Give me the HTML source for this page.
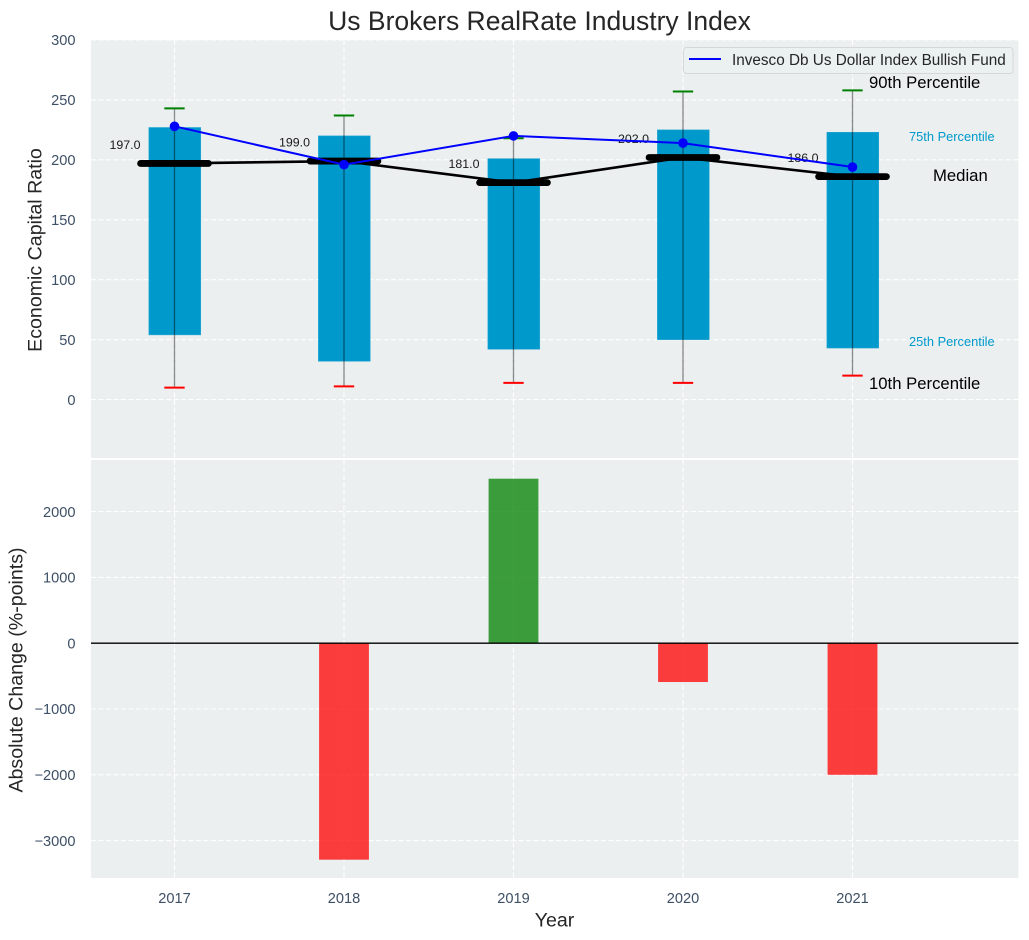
<!DOCTYPE html>
<html>
<head>
<meta charset="utf-8">
<title>Us Brokers RealRate Industry Index</title>
<style>
html,body{margin:0;padding:0;background:#fff;width:1029px;height:940px;overflow:hidden}
svg{display:block;font-family:"Liberation Sans",Arial,sans-serif}
</style>
</head>
<body>
<svg id="chart" width="1029" height="940" viewBox="0 0 1029 940" xmlns="http://www.w3.org/2000/svg">
  <rect x="91" y="40" width="927.5" height="418" fill="#ebeff0"/>
  <rect x="91" y="460" width="927.5" height="418" fill="#ebeff0"/>
  <g id="grid"></g>
  <g id="top-marks"></g>
  <g id="bottom-marks"></g>
  <g id="ticks"></g>

  <text x="539.5" y="30" font-size="26.5" fill="#262626" text-anchor="middle">Us Brokers RealRate Industry Index</text>
  <text transform="translate(41.5,250) rotate(-90)" font-size="19.6" fill="#262626" text-anchor="middle">Economic Capital Ratio</text>
  <text transform="translate(22.5,670) rotate(-90)" font-size="19.6" fill="#262626" text-anchor="middle">Absolute Change (%-points)</text>
  <text x="554.5" y="926.5" font-size="19.6" fill="#262626" text-anchor="middle">Year</text>

  <text x="869" y="88" font-size="16.7" fill="#000">90th Percentile</text>
  <text x="909" y="141" font-size="12.85" fill="#0099cc">75th Percentile</text>
  <text x="933" y="181" font-size="16.7" fill="#000">Median</text>
  <text x="909" y="346" font-size="12.85" fill="#0099cc">25th Percentile</text>
  <text x="869" y="389" font-size="16.7" fill="#000">10th Percentile</text>

  <g>
    <rect x="683.5" y="47.5" width="329.5" height="26" rx="3" fill="#ebeff0" fill-opacity="0.9" stroke="#d5d7d9" stroke-width="1"/>
    <line x1="689" y1="59" x2="721" y2="59" stroke="#0000ff" stroke-width="2"/>
    <text x="732" y="65" font-size="15.3" fill="#262626">Invesco Db Us Dollar Index Bullish Fund</text>
  </g>
</svg>
<script>
var years = [2017, 2018, 2019, 2020, 2021];
var p90 = [243, 237, 218, 257, 258];
var p75 = [227, 220, 201, 225, 223];
var medians = [197, 199, 181, 202, 186];
var p25 = [54, 32, 42, 50, 43];
var p10 = [10, 11, 14, 14, 20];
var fund = [228, 196, 220, 214, 194];
var changes = [null, -3290, 2500, -590, -2000];
var topTicks = [0, 50, 100, 150, 200, 250, 300];
var bottomTicks = [-3000, -2000, -1000, 0, 1000, 2000];

var NS = 'http://www.w3.org/2000/svg';
function xPos(v) { return 174.5 + (v - 2017) * 169.5; }
function yTop(v) { return 399.6 - v * 1.1987; }
function yBot(v) { return 643.2 - v * 0.0658; }

function make(parent, tag, attrs, text) {
  var el = document.createElementNS(NS, tag);
  for (var k in attrs) el.setAttribute(k, attrs[k]);
  if (text !== undefined) el.textContent = text;
  parent.appendChild(el);
  return el;
}

var grid = document.getElementById('grid');
var ticks = document.getElementById('ticks');
var topG = document.getElementById('top-marks');
var botG = document.getElementById('bottom-marks');
var dash = { stroke: '#ffffff', 'stroke-width': 1.1, 'stroke-dasharray': '5 2.5', 'stroke-opacity': 0.95 };

function gridLine(x1, y1, x2, y2) {
  var a = { x1: x1, y1: y1, x2: x2, y2: y2 };
  for (var k in dash) a[k] = dash[k];
  return make(grid, 'line', a);
}

topTicks.forEach(function (t) {
  var g = gridLine(91, yTop(t), 1018.5, yTop(t));
  
  
  var l = make(ticks, 'text', { x: 75.5, y: yTop(t) + 5.2, 'font-size': 14.6, fill: '#3e5066', 'text-anchor': 'end' }, String(t));
  
  
});

bottomTicks.forEach(function (t) {
  var g = gridLine(91, yBot(t), 1018.5, yBot(t));
  
  
  var l = make(ticks, 'text', { x: 75.5, y: yBot(t) + 5.2, 'font-size': 14.6, fill: '#3e5066', 'text-anchor': 'end' }, String(t).replace('-', '\u2212'));
  
  
});

years.forEach(function (yr) {
  var x = xPos(yr);
  var a = gridLine(x, 40, x, 458);
  
  
  var b = gridLine(x, 460, x, 878);
  
  
  var l = make(ticks, 'text', { x: x, y: 903, 'font-size': 14.6, fill: '#3e5066', 'text-anchor': 'middle' }, String(yr));
  
  
});

var halfBox = 0.15;
years.forEach(function (yr, i) {
  var x0 = xPos(yr - halfBox), x1 = xPos(yr + halfBox);
  var box = make(topG, 'rect', { x: x0 - 0.2, y: yTop(p75[i]), width: x1 - x0 + 1, height: yTop(p25[i]) - yTop(p75[i]), fill: '#0099cc', stroke: '#2fa9d4', 'stroke-width': 0.6 });
  
  
});

years.forEach(function (yr, i) {
  var x = xPos(yr);
  var w = make(topG, 'line', { x1: x, y1: yTop(p10[i]), x2: x, y2: yTop(p90[i]), stroke: '#000', 'stroke-opacity': 0.45, 'stroke-width': 1.3 });
  
  
  var c1 = make(topG, 'line', { x1: xPos(yr - 0.06), y1: yTop(p90[i]), x2: xPos(yr + 0.06), y2: yTop(p90[i]), stroke: '#008000', 'stroke-width': 2 });
  
  
  var c2 = make(topG, 'line', { x1: xPos(yr - 0.06), y1: yTop(p10[i]), x2: xPos(yr + 0.06), y2: yTop(p10[i]), stroke: '#ff0000', 'stroke-width': 2 });
  
  
});

var medLine = make(topG, 'polyline', {
  points: years.map(function (yr, i) { return xPos(yr) + ',' + yTop(medians[i]); }).join(' '),
  fill: 'none', stroke: '#000', 'stroke-width': 2.6
});



years.forEach(function (yr, i) {
  var m = make(topG, 'line', { x1: xPos(yr - 0.2), y1: yTop(medians[i]), x2: xPos(yr + 0.2), y2: yTop(medians[i]), stroke: '#000', 'stroke-width': 6.8, 'stroke-linecap': 'round' });
  
  
  var t = make(topG, 'text', { x: xPos(yr) - 49.5, y: yTop(medians[i]) - 14.5, 'font-size': 12.4, fill: '#1a1a1a', 'text-anchor': 'middle' }, medians[i].toFixed(1));
  
  
});

var fundLine = make(topG, 'polyline', {
  points: years.map(function (yr, i) { return xPos(yr) + ',' + yTop(fund[i]); }).join(' '),
  fill: 'none', stroke: '#0000ff', 'stroke-width': 2
});



years.forEach(function (yr, i) {
  var d = make(topG, 'circle', { cx: xPos(yr), cy: yTop(fund[i]), r: 4.8, fill: '#0000ff' });
  
  
});

years.forEach(function (yr, i) {
  if (changes[i] === null) return;
  var v = changes[i];
  var y0 = yBot(Math.max(v, 0)), y1 = yBot(Math.min(v, 0));
  var b = make(botG, 'rect', {
    x: xPos(yr - 0.147), y: y0, width: xPos(yr + 0.147) - xPos(yr - 0.147), height: y1 - y0,
    fill: v < 0 ? '#ff0000' : '#008000', 'fill-opacity': 0.75
  });
  
  
});

var zero = make(botG, 'line', { x1: 91, y1: yBot(0), x2: 1018.5, y2: yBot(0), stroke: '#000', 'stroke-width': 1.4 });


</script>
</body>
</html>
